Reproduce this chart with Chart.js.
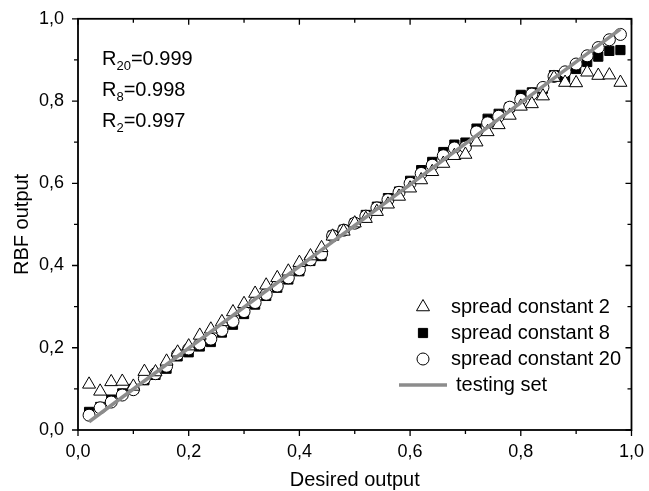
<!DOCTYPE html>
<html>
<head>
<meta charset="utf-8">
<script src="https://cdn.jsdelivr.net/npm/chart.js@4/dist/chart.umd.min.js"></script>
<style>
  html, body { margin: 0; padding: 0; background: #ffffff; }
  #wrap { width: 649px; height: 491px; position: relative; }
</style>
</head>
<body>
<div id="wrap"><canvas id="c" width="649" height="491"></canvas></div>
<script>
// Desired output (x) for every sample
const desired = [0.02, 0.04, 0.06, 0.08, 0.10, 0.12, 0.14, 0.16, 0.18, 0.20,
                 0.22, 0.24, 0.26, 0.28, 0.30, 0.32, 0.34, 0.36, 0.38, 0.40,
                 0.42, 0.44, 0.46, 0.48, 0.50, 0.52, 0.54, 0.56, 0.58, 0.60,
                 0.62, 0.64, 0.66, 0.68, 0.70, 0.72, 0.74, 0.76, 0.78, 0.80,
                 0.82, 0.84, 0.86, 0.88, 0.90, 0.92, 0.94, 0.96, 0.98];

// RBF output, spread constant 2
const spread2 = [0.111, 0.094, 0.117, 0.118, 0.106, 0.142, 0.141, 0.167, 0.189, 0.204,
                 0.230, 0.245, 0.263, 0.287, 0.307, 0.332, 0.352, 0.370, 0.386, 0.407,
                 0.423, 0.443, 0.471, 0.483, 0.503, 0.514, 0.531, 0.549, 0.568, 0.588,
                 0.608, 0.628, 0.648, 0.667, 0.670, 0.700, 0.725, 0.742, 0.765, 0.787,
                 0.793, 0.812, 0.857, 0.845, 0.844, 0.870, 0.862, 0.863, 0.845];

// RBF output, spread constant 8
const spread8 = [0.044, 0.056, 0.074, 0.089, 0.100, 0.121, 0.134, 0.149, 0.179, 0.189,
                 0.203, 0.214, 0.237, 0.256, 0.282, 0.305, 0.326, 0.346, 0.366, 0.386,
                 0.411, 0.423, 0.473, 0.487, 0.503, 0.523, 0.543, 0.564, 0.580, 0.606,
                 0.632, 0.652, 0.676, 0.694, 0.699, 0.733, 0.757, 0.769, 0.785, 0.815,
                 0.821, 0.830, 0.863, 0.857, 0.878, 0.895, 0.908, 0.922, 0.924];

// RBF output, spread constant 20
const spread20 = [0.036, 0.054, 0.068, 0.085, 0.098, 0.125, 0.137, 0.155, 0.184, 0.197,
                  0.209, 0.221, 0.242, 0.264, 0.288, 0.310, 0.330, 0.350, 0.370, 0.390,
                  0.414, 0.428, 0.472, 0.486, 0.503, 0.520, 0.540, 0.560, 0.578, 0.600,
                  0.624, 0.644, 0.667, 0.686, 0.688, 0.725, 0.747, 0.763, 0.785, 0.804,
                  0.817, 0.833, 0.860, 0.871, 0.890, 0.910, 0.930, 0.949, 0.962];

// Testing set reference line
const testingX = [0.02, 0.98];
const testingY = [0.02, 0.975];

// Correlation coefficients
const rLabels = [
  { sub: '20', value: '0.999' },
  { sub: '8',  value: '0.998' },
  { sub: '2',  value: '0.997' }
];

const legendLabels = ['spread constant 2', 'spread constant 8', 'spread constant 20', 'testing set'];

const FONT = 'Arial, "Liberation Sans", sans-serif';

function pts(xs, ys) { return xs.map((x, i) => ({ x: x, y: ys[i] })); }
function fmt(v) { return (Math.round(v * 10) / 10).toFixed(1).replace('.', ','); }

// Frame, tick marks, annotations and legend
const decor = {
  id: 'decor',
  afterDatasetsDraw(chart) {
    const ctx = chart.ctx;
    const a = chart.chartArea;
    const xs = chart.scales.x, ys = chart.scales.y;
    ctx.save();
    ctx.strokeStyle = '#000';
    ctx.lineWidth = 1.8;
    ctx.strokeRect(a.left, a.top, a.right - a.left, a.bottom - a.top);

    ctx.lineWidth = 1.3;
    for (let i = 0; i <= 10; i++) {
      const v = i / 10;
      const len = (i % 2 === 0) ? 6 : 4;
      const px = xs.getPixelForValue(v);
      const py = ys.getPixelForValue(v);
      ctx.beginPath();
      // bottom: outward, top: inward
      ctx.moveTo(px, a.bottom); ctx.lineTo(px, a.bottom + len);
      ctx.moveTo(px, a.top); ctx.lineTo(px, a.top + len);
      // left: outward, right: inward
      ctx.moveTo(a.left, py); ctx.lineTo(a.left - len, py);
      ctx.moveTo(a.right, py); ctx.lineTo(a.right - len, py);
      ctx.stroke();
    }

    // R values
    ctx.fillStyle = '#000';
    ctx.textBaseline = 'alphabetic';
    const rx = a.left + 24;
    let ry = a.top + 46;
    rLabels.forEach(r => {
      ctx.font = '20px ' + FONT;
      ctx.fillText('R', rx, ry);
      const w1 = ctx.measureText('R').width;
      ctx.font = '13px ' + FONT;
      ctx.fillText(r.sub, rx + w1, ry + 5);
      const w2 = ctx.measureText(r.sub).width;
      ctx.font = '20px ' + FONT;
      ctx.fillText('=' + r.value, rx + w1 + w2, ry);
      ry += 31;
    });

    // Legend
    const lx = 423, tx = 451;
    let ly = 307;
    const ds = chart.data.datasets;
    ctx.font = '20px ' + FONT;
    ctx.textBaseline = 'middle';
    for (let i = 0; i < 4; i++) {
      const d = ds[i];
      if (d.showLine) {
        ctx.strokeStyle = d.borderColor;
        ctx.lineWidth = d.borderWidth;
        ctx.beginPath();
        ctx.moveTo(lx - 24, ly); ctx.lineTo(lx + 24, ly);
        ctx.stroke();
      } else {
        ctx.strokeStyle = d.pointBorderColor;
        ctx.fillStyle = d.pointBackgroundColor;
        ctx.lineWidth = d.pointBorderWidth;
        Chart.helpers.drawPoint(ctx, { pointStyle: d.pointStyle, radius: d.pointRadius, rotation: 0, borderWidth: d.pointBorderWidth }, lx, ly);
      }
      ctx.fillStyle = '#000';
      ctx.fillText(legendLabels[i], d.showLine ? tx + 5 : tx, ly);
      ly += 26;
    }
    ctx.restore();
  }
};

new Chart(document.getElementById('c'), {
  type: 'scatter',
  data: {
    datasets: [
      { label: legendLabels[0], data: pts(desired, spread2), pointStyle: 'triangle', pointRadius: 7.5,
        pointBackgroundColor: '#ffffff', pointBorderColor: '#000000', pointBorderWidth: 1, showLine: false, order: 1 },
      { label: legendLabels[1], data: pts(desired, spread8), pointStyle: 'rect', pointRadius: 6.5,
        pointBackgroundColor: '#000000', pointBorderColor: '#000000', pointBorderWidth: 1, showLine: false, order: 3 },
      { label: legendLabels[2], data: pts(desired, spread20), pointStyle: 'circle', pointRadius: 6,
        pointBackgroundColor: '#ffffff', pointBorderColor: '#000000', pointBorderWidth: 1, showLine: false, order: 2 },
      { label: legendLabels[3], data: pts(testingX, testingY), showLine: true, borderColor: '#8c8c8c', borderWidth: 3.5,
        pointRadius: 0, fill: false, order: 0 }
    ]
  },
  plugins: [decor],
  options: {
    responsive: false,
    animation: false,
    layout: { padding: { top: 17, right: 14, left: 0, bottom: 0 } },
    plugins: { legend: { display: false }, tooltip: { enabled: false } },
    scales: {
      x: {
        type: 'linear', min: 0, max: 1,
        grid: { display: false, drawTicks: true, tickLength: 6 },
        border: { display: false },
        ticks: { stepSize: 0.1, color: '#000', font: { family: FONT, size: 18 }, padding: 5, maxRotation: 0,
                 autoSkip: false, callback: (v) => (Math.round(v * 10) % 2 === 0 ? fmt(v) : '') },
        title: { display: true, text: 'Desired output', color: '#000', font: { family: FONT, size: 20, lineHeight: 1.1 }, padding: { top: 4, bottom: 0 } },
        afterFit: (s) => { s.height = 61; }
      },
      y: {
        type: 'linear', min: 0, max: 1,
        grid: { display: false, drawTicks: true, tickLength: 6 },
        border: { display: false },
        ticks: { stepSize: 0.1, color: '#000', font: { family: FONT, size: 18 }, padding: 8,
                 autoSkip: false, callback: (v) => (Math.round(v * 10) % 2 === 0 ? fmt(v) : '') },
        title: { display: true, text: 'RBF output', color: '#000', font: { family: FONT, size: 20 }, padding: { top: 10, bottom: 4 } },
        afterFit: (s) => { s.width = 78; }
      }
    }
  }
});
</script>
</body>
</html>
